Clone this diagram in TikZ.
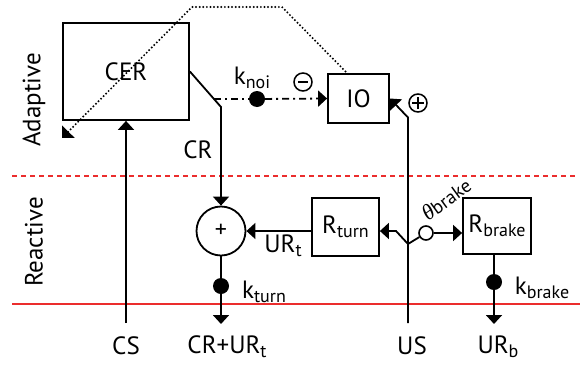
\documentclass[tikz,border=0pt]{standalone}
\usepackage{fontspec}
\setmainfont{PT Sans}
\newfontfamily\grk{Liberation Serif}
\usetikzlibrary{arrows.meta}
\newcommand\sbs[1]{\raisebox{-4pt}{\fontsize{18}{18}\selectfont #1}}
\definecolor{lred}{RGB}{235,45,45}
\begin{document}
\begin{tikzpicture}[x=1pt,y=-1pt,
  lbl/.style={font=\fontsize{25}{29}\selectfont, inner sep=0pt},
  blk/.style={draw, line width=1.8pt, inner sep=0pt, font=\fontsize{25}{29}\selectfont},
  wire/.style={line width=1.8pt},
  arr/.style={wire, -{Triangle[width=16pt,length=9pt]}},
  fdot/.style={circle, fill=black, minimum size=16pt, inner sep=0pt},
  odot/.style={circle, draw, fill=white, line width=1.6pt, minimum size=14pt, inner sep=0pt},
  sgn/.style={circle, draw, line width=1.5pt, minimum size=18pt, inner sep=0pt},
  reddash/.style={draw=lred, line width=1.5pt, dash pattern=on 5pt off 4pt},
  redsolid/.style={draw=lred, line width=1.5pt}]
\useasboundingbox (0,0) rectangle (585,367);

% layer lines
\draw[reddash] (12,176) -- (577,176);
\draw[redsolid] (12,304) -- (580,304);

% side labels
\node[lbl, rotate=90] (adapt) at (34,100) {Adaptive};
\node[lbl, rotate=90] (react) at (34,242) {Reactive};

% blocks
\node[blk, minimum width=126pt, minimum height=97pt] (cer) at (126,71.5) {CER};
\node[blk, minimum width=61pt, minimum height=49pt] (io) at (358.5,98.5) {IO};
\node[blk, minimum width=67pt, minimum height=58pt] (rturn) at (345.5,227) {R\sbs{turn}};
\node[blk, minimum width=68pt, minimum height=56pt] (rbrake) at (497,226) {R\sbs{brake}};
\node[circle, draw, line width=1.8pt, minimum size=49pt, inner sep=0pt,
      font=\fontsize{24}{28}\selectfont] (plus) at (221,231) {+};

% dots
\node[fdot] (knoi) at (257,99) {};
\node[fdot] (kturn) at (221,286) {};
\node[fdot] (kbrake) at (494,282) {};
\node[odot] (theta) at (426,233) {};

% sign markers
\node[sgn] (minus) at (303,82) {};
\draw[line width=1.5pt] ([xshift=-5pt]minus.center) -- ([xshift=5pt]minus.center);
\node[sgn] (pos) at (418,103) {};
\draw[line width=1.5pt] ([xshift=-6pt]pos.center) -- ([xshift=6pt]pos.center);
\draw[line width=1.5pt] ([yshift=-6pt]pos.center) -- ([yshift=6pt]pos.center);

% coordinates
\coordinate (cs) at (126,323);
\coordinate (crk) at (221,107);
\coordinate (j1) at (214,99);
\coordinate (crur) at (221,324);
\coordinate (us) at (408,323);
\coordinate (usk) at (408,117.5);
\coordinate (usj) at (408,244);
\coordinate (ul) at (396,231);
\coordinate (urb) at (494,324);
\coordinate (iotop) at (348,74);
\coordinate (d1) at (282,7);
\coordinate (d2) at (192,7);
\coordinate (dtip) at (62,138);

% connectors
\draw[arr] (cs) -- (cer.south);
\draw[arr] (cer.east) -- (crk) -- (plus.north);
\draw[wire, dash pattern=on 7pt off 4pt on 2pt off 4pt] (j1) -- (knoi);
\draw[arr, dash pattern=on 7pt off 4pt on 2pt off 4pt] (knoi) -- (io.west);
\draw[arr] (us) -- (usk) -- (io.east);
\draw[arr] (usj) -- (ul) -- (ul -| rturn.east);
\draw[arr] (rturn.west |- plus.east) -- (plus.east);
\draw[wire] (usj) -- (theta);
\draw[arr] (theta) -- (theta -| rbrake.west);
\draw[wire] (plus.south) -- (kturn);
\draw[arr] (kturn) -- (crur);
\draw[wire] (rbrake.south -| kbrake) -- (kbrake);
\draw[arr] (kbrake) -- (urb);
\draw[line width=2.2pt, line cap=round, dash pattern=on 0pt off 3.6pt,
      -{Triangle[width=17pt,length=9pt]}] (iotop) -- (d1) -- (d2) -- (dtip);

% labels
\node[lbl] (lknoi) at (252,78) {k\sbs{noi}};
\node[lbl] (lcr) at (198,150) {CR};
\node[lbl] (lurt) at (283,246) {UR\sbs{t}};
\node[lbl] (lkturn) at (264,292) {k\sbs{turn}};
\node[lbl] (lkbrake) at (542,288) {k\sbs{brake}};
\node[lbl, rotate=36, font=\fontsize{19}{19}\selectfont] (ltheta) at (446,199) {{\grk\itshape\fontsize{22}{22}\selectfont θ}brake};
\node[lbl] (lcs) at (126,346) {CS};
\node[lbl] (lcrur) at (227,347) {CR+UR\sbs{t}};
\node[lbl] (lus) at (412,346) {US};
\node[lbl] (lurb) at (498,347) {UR\sbs{b}};
\end{tikzpicture}
\end{document}
